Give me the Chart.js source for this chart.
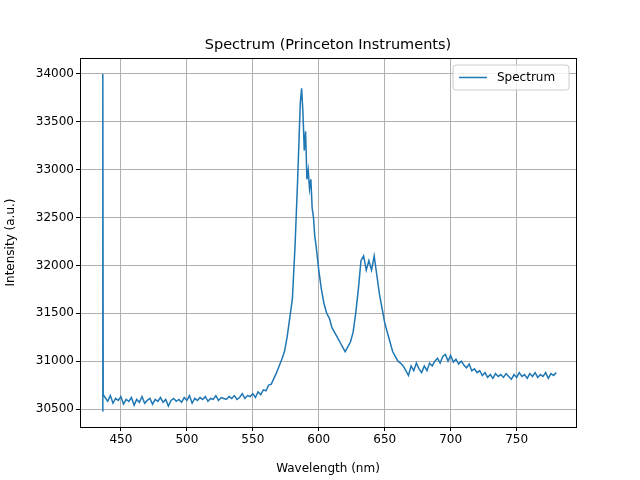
<!DOCTYPE html>
<html><head><script src="https://cdn.jsdelivr.net/npm/chart.js"></script>
<style>body{margin:0}canvas{display:block}</style></head>
<body><div style="width:640px;height:480px"><canvas id="c"></canvas></div>
<script>
const wavelengths=[436,436.3,436.6,438,440,442,444,446,448,450,452,454,456,458,460,462,464,466,468,470,472,474,476,478,480,482,484,486,488,490,492,494,496,498,500,502,504,506,508,510,512,514,516,518,520,522,524,526,528,530,532,534,536,538,540,542,544,546,548,550,552,554,556,558,560,562,564,566,568,570,572,574,576,578,580,582,584,585,586,587,588,589,590,591,592,593,594,595,596,597,598,600,602,604,606,608,610,612,614,616,618,620,622,624,626,628,630,632,634,636,638,640,642,644,646,648,650,652,654,656,658,660,662,664,666,668,670,672,674,676,678,680,682,684,686,688,690,692,694,696,698,700,702,704,706,708,710,712,714,716,718,720,722,724,726,728,730,732,734,736,738,740,742,744,746,748,750,752,754,756,758,760,762,764,766,768,770,772,774,776,778,780];
const intensity=[30480,34000,30650,30620,30580,30640,30560,30610,30590,30630,30550,30600,30580,30620,30540,30600,30570,30630,30560,30590,30610,30550,30600,30580,30620,30570,30600,30530,30590,30610,30580,30600,30570,30620,30590,30640,30560,30610,30590,30620,30600,30630,30580,30610,30600,30640,30590,30620,30610,30600,30630,30610,30640,30600,30620,30660,30610,30640,30630,30660,30620,30680,30650,30700,30690,30750,30760,30820,30880,30950,31020,31100,31250,31450,31650,32200,32900,33300,33700,33850,33600,33200,33400,32900,33000,32800,32900,32600,32500,32300,32200,31950,31750,31600,31500,31450,31350,31300,31250,31200,31150,31100,31150,31200,31300,31500,31750,32050,32100,31950,32050,31950,32100,31900,31700,31550,31400,31300,31200,31100,31050,31000,30980,30950,30900,30850,30950,30900,30980,30920,30880,30950,30900,30980,30950,31000,31030,30980,31050,31070,31000,31060,30990,31020,30970,31000,30960,30930,30970,30900,30920,30880,30900,30850,30880,30830,30860,30820,30870,30840,30860,30830,30870,30840,30810,30860,30830,30880,30840,30860,30820,30870,30840,30880,30830,30860,30840,30880,30820,30870,30850,30880];
const pts=wavelengths.map((x,i)=>({x,y:intensity[i]}));
const blue='#1f77b4';
const F='"DejaVu Sans"';
Chart.defaults.font.family=F;Chart.defaults.color='#000';
const deco={id:'deco',afterDraw(ch){const c=ch.ctx,a=ch.chartArea;c.save();
c.strokeStyle='#000';c.lineWidth=1;c.strokeRect(a.left+0.5,a.top+0.5,a.right-a.left,a.bottom-a.top);
c.fillStyle='#000';c.font='14.5px '+F;c.textAlign='center';c.textBaseline='alphabetic';c.fillText('Spectrum (Princeton Instruments)',(a.left+a.right)/2,49);
const bx=453,by=65,bw=116,bh=25;c.fillStyle='rgba(255,255,255,0.8)';c.strokeStyle='#ccc';
c.beginPath();c.roundRect(bx,by,bw,bh,3);c.fill();c.stroke();
c.strokeStyle=blue;c.lineWidth=1.5;c.beginPath();c.moveTo(bx+6,by+12.5);c.lineTo(bx+34,by+12.5);c.stroke();
c.fillStyle='#000';c.font='12px '+F;c.textAlign='left';c.textBaseline='middle';c.fillText('Spectrum',bx+44,by+13);c.restore();}};
new Chart(document.getElementById('c'),{type:'scatter',
data:{datasets:[{label:'Spectrum',data:pts,showLine:true,pointRadius:0,borderColor:blue,borderWidth:1.5,tension:0}]},
options:{responsive:true,maintainAspectRatio:false,animation:false,layout:{padding:{top:58,right:64,left:0,bottom:0}},
plugins:{legend:{display:false},title:{display:false},tooltip:{enabled:false}},
scales:{x:{type:'linear',min:419,max:795,afterBuildTicks:s=>{s.ticks=[450,500,550,600,650,700,750].map(v=>({value:v}))},afterFit:s=>{s.height=53},
grid:{color:'#b0b0b0',tickColor:'#000',tickLength:4},border:{display:false},ticks:{font:{size:12},padding:2,callback:v=>String(v)},
title:{display:true,text:'Wavelength (nm)',font:{size:12},padding:{top:0}}},
y:{min:30312,max:34167,afterBuildTicks:s=>{s.ticks=[30500,31000,31500,32000,32500,33000,33500,34000].map(v=>({value:v}))},afterFit:s=>{s.width=80},
grid:{color:'#b0b0b0',tickColor:'#000',tickLength:4},border:{display:false},ticks:{font:{size:12},padding:2,callback:v=>String(v)},
title:{display:true,text:'Intensity (a.u.)',font:{size:12},padding:{bottom:4}}}}},
plugins:[deco]});
</script></body></html>
